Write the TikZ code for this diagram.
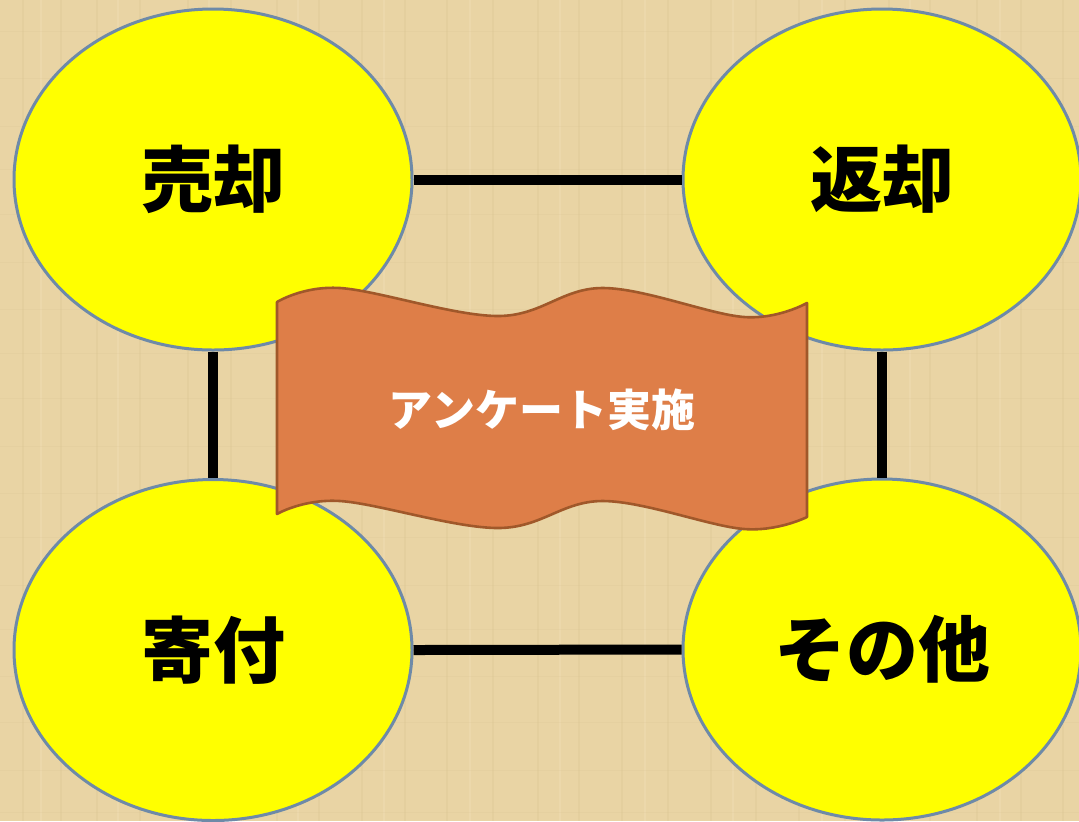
\documentclass[tikz,border=0pt]{standalone}
\usepackage{fontspec}
\newfontfamily\jp{Noto Sans CJK JP}
\usetikzlibrary{shapes.geometric}
\definecolor{parch}{RGB}{233,212,164}
\definecolor{parchdark}{RGB}{212,188,138}
\definecolor{parchlight}{RGB}{243,226,186}
\definecolor{ellborder}{RGB}{110,138,168}
\definecolor{bannerfill}{RGB}{222,126,72}
\definecolor{bannerline}{RGB}{160,88,42}
\definecolor{yel}{RGB}{255,255,0}
\tikzset{
  bubble/.style={ellipse, draw=ellborder, line width=1.5pt, fill=yel,
    minimum width=199pt, minimum height=170.5pt, inner sep=0pt,
    font=\jp\bfseries\fontsize{36}{40}\selectfont, text=black},
  link/.style={line width=5pt, draw=black},
  banner/.style={fill=bannerfill, draw=bannerline, line width=1.3pt, line join=round},
  bannertext/.style={font=\jp\bfseries\fontsize{22}{24}\selectfont, text=white}
}
\begin{document}
\begin{tikzpicture}[x=0.5pt,y=-0.5pt]
\useasboundingbox (0,0) rectangle (1079,821);
\fill[parch] (0,0) rectangle (1079,821);
% faint texture
\foreach \x in {23,61,97,140,188,231,277,319,362,405,447,493,538,579,622,668,711,756,799,845,889,930,977,1021,1063}
  \draw[parchdark, opacity=0.2, line width=0.8pt] (\x,0) -- (\x,821);
\foreach \x in {41,118,209,298,384,470,560,645,733,822,910,1000}
  \draw[parchlight, opacity=0.35, line width=1.2pt] (\x,0) -- (\x,821);
\foreach \y in {31,78,126,169,214,262,309,353,398,446,493,537,585,629,676,722,770,812}
  \draw[parchdark, opacity=0.15, line width=0.5pt] (0,\y) -- (1079,\y);

\node[bubble] (sell) at (213,179.5) {売却};
\node[bubble] (ret) at (882,179.5) {返却};
\node[bubble] (don) at (213,650) {寄付};
\node[bubble] (oth) at (882,649.5) {その他};

\draw[link] (sell.east) -- (ret.west);
\draw[link] (don.east) -- (oth.west);
\draw[link] (sell.south) -- (don.north);
\draw[link] (ret.south) -- (oth.north);

\draw[banner] plot[smooth, tension=0.6] coordinates {(277,302) (340,288) (498,316) (603,288) (744,317) (807,303)}
  -- plot[smooth, tension=0.6] coordinates {(807,517) (744,529) (603,501) (498,528) (340,501) (277,514)} -- cycle;
\node[bannertext] (survey) at (542,410) {アンケート実施};
\end{tikzpicture}
\end{document}
